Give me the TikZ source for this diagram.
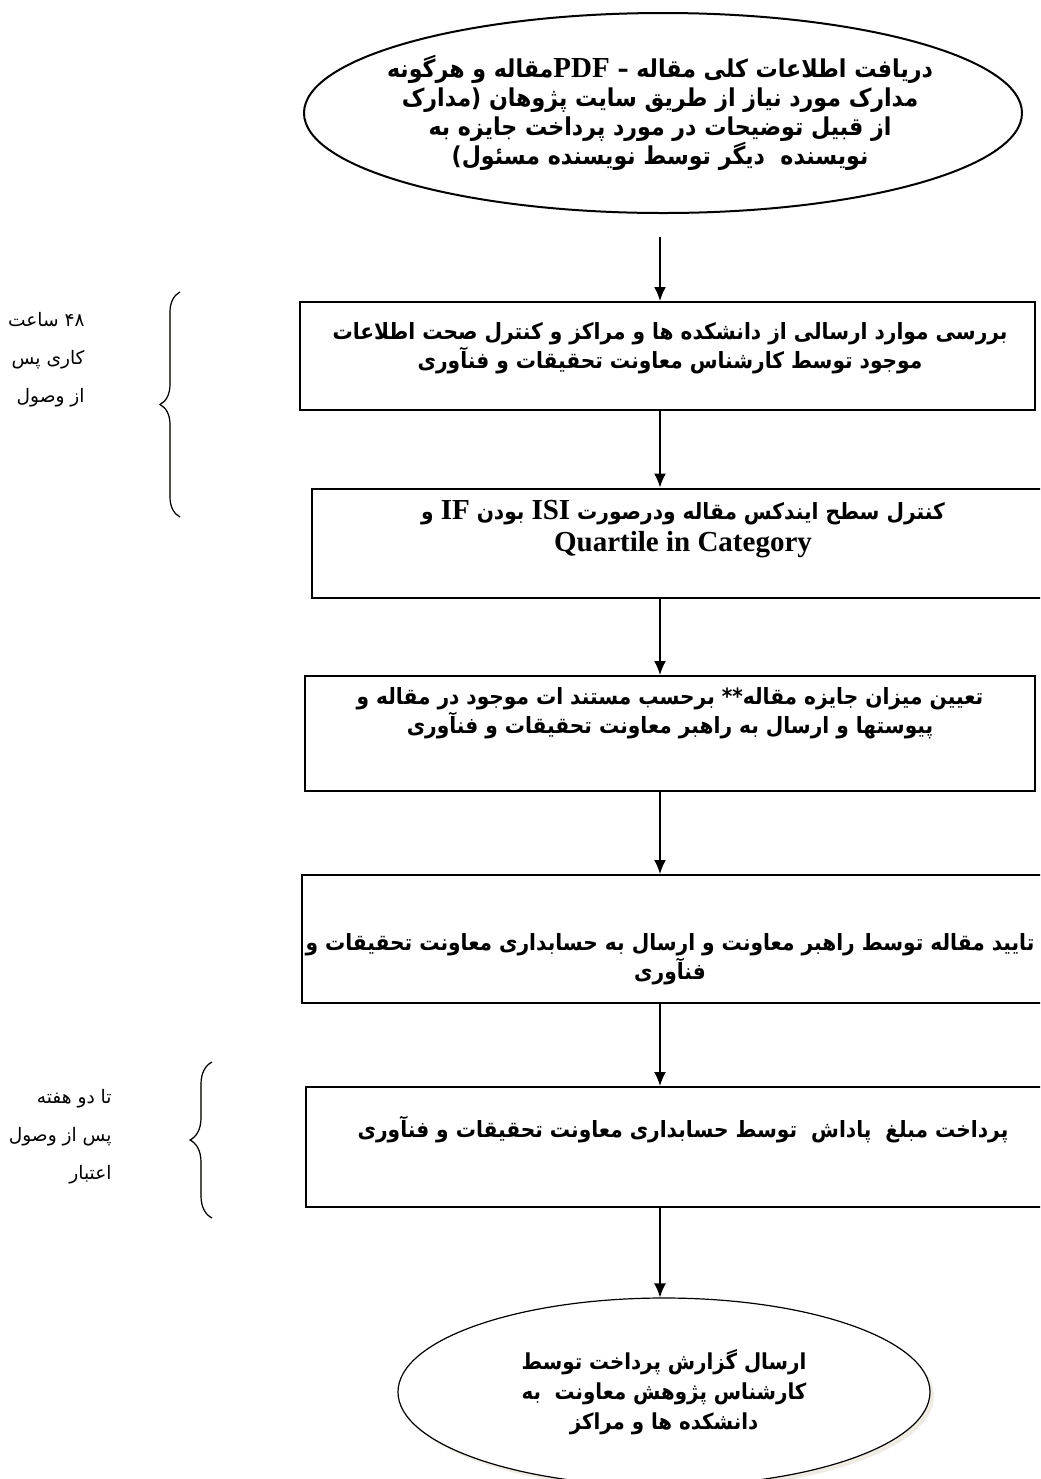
\documentclass[tikz,border=0pt]{standalone}
\usepackage{fontspec}
\usepackage{tikz}
\usetikzlibrary{arrows.meta, decorations.pathreplacing, shadows, shapes.geometric}
\TeXXeTstate=1
\newfontfamily\farsi[Script=Arabic]{DejaVu Sans Condensed}
\newfontfamily\farsinote[Script=Arabic]{DejaVu Sans}
\newfontfamily\latin{Liberation Serif}
\definecolor{shadowtan}{RGB}{222,218,200}
\newcommand\fa[1]{\beginR #1\endR}
\newcommand\en[1]{\beginL{\latin\bfseries\fontsize{14.5}{15}\selectfont #1}\endL}

\begin{document}
\begin{tikzpicture}[x=0.5pt,y=-0.5pt,>={Latex[length=7pt,width=6pt]},
  stepbox/.style={draw,line width=1pt,rectangle,inner sep=0pt},
  steptext/.style={inner sep=0pt,align=center,font=\farsi\bfseries\fontsize{11.2}{13.2}\selectfont},
  endball/.style={draw,ellipse,inner sep=0pt,align=center,
    font=\farsi\bfseries\fontsize{11}{15}\selectfont},
  note/.style={inner sep=0pt,align=right,anchor=east,font=\farsinote\fontsize{9.3}{19}\selectfont},
  timebrace/.style={decorate,decoration={brace,amplitude=#1},line width=.6pt},
  flow/.style={->,line width=.8pt}]
\useasboundingbox (0,0) rectangle (1040,1479);
\clip (0,0) rectangle (1040,1479);
\coordinate (axis) at (660,0);

\draw node [endball,line width=1pt,minimum width=359pt,minimum height=100pt] (E1) at (663,113) {};
\draw node [steptext,font=\farsi\bfseries\fontsize{12.3}{14.5}\selectfont] (T0) at (660,113)
  {\fa{دریافت اطلاعات کلی مقاله – \en{PDF}مقاله و هرگونه}\\
   \fa{مدارک مورد نیاز از طریق سایت پژوهان (مدارک}\\
   \fa{از قبیل توضیحات در مورد پرداخت جایزه به}\\
   \fa{نویسنده \ دیگر توسط نویسنده مسئول)}};

\draw node [stepbox,minimum width=367.5pt,minimum height=54pt] (B1) at (667.5,356) {};
\draw node [steptext] (T1) at (670,348)
  {\fa{بررسی موارد ارسالی از دانشکده ها و مراکز و کنترل صحت اطلاعات}\\
   \fa{موجود توسط کارشناس معاونت تحقیقات و فنآوری}};
\draw node [stepbox,minimum width=374pt,minimum height=54.5pt] (B2) at (686,543) {};
\draw node [steptext] (T2) at (683,529)
  {\fa{کنترل سطح ایندکس مقاله ودرصورت \en{ISI} بودن \en{IF} و}\\[3pt]
   \en{Quartile in Category}};
\draw node [stepbox,minimum width=365pt,minimum height=57.5pt] (B3) at (670,733.5) {};
\draw node [steptext] (T3) at (670,713)
  {\fa{تعیین میزان جایزه مقاله** برحسب مستند ات موجود در مقاله و}\\
   \fa{پیوستها و ارسال به راهبر معاونت تحقیقات و فنآوری}};
\draw node [stepbox,minimum width=379pt,minimum height=64pt] (B4) at (681,939) {};
\draw node [steptext] (T4) at (670,959)
  {\fa{تایید مقاله توسط راهبر معاونت و ارسال به حسابداری معاونت تحقیقات و}\\
   \fa{فنآوری}};
\draw node [stepbox,minimum width=377pt,minimum height=60pt] (B5) at (683,1147) {};
\draw node [steptext] (T5) at (683,1130)
  {\fa{پرداخت مبلغ \ پاداش \ توسط حسابداری معاونت تحقیقات و فنآوری}};
\draw node [endball,line width=.6pt,fill=white,minimum width=266pt,minimum height=94pt,
  drop shadow={shadow xshift=2pt,shadow yshift=-2pt,fill=shadowtan}] (E2) at (664,1392)
  {\fa{ارسال گزارش پرداخت توسط}\\
   \fa{کارشناس پژوهش معاونت \ به}\\
   \fa{دانشکده ها و مراکز}};

\coordinate (A0) at (660,237);
\draw [flow] (A0) -- (B1.north -| axis);
\draw [flow] (B1.south -| axis) -- (B2.north -| axis);
\draw [flow] (B2.south -| axis) -- (B3.north -| axis);
\draw [flow] (B3.south -| axis) -- (B4.north -| axis);
\draw [flow] (B4.south -| axis) -- (B5.north -| axis);
\draw [flow] (B5.south -| axis) -- (E2.north -| axis);

\coordinate (W1a) at (180,517);
\coordinate (W1b) at (180,292);
\draw [timebrace=10pt,shadowtan,xshift=1.2pt] (W1a) -- (W1b);
\draw [timebrace=10pt] (W1a) -- (W1b);
\draw node [note] (N1) at (85,360)
  {\fa{۴۸ ساعت}\\ \fa{کاری پس}\\ \fa{از وصول}};

\coordinate (W2a) at (212,1218);
\coordinate (W2b) at (212,1062);
\draw [timebrace=11pt,shadowtan,xshift=1.2pt] (W2a) -- (W2b);
\draw [timebrace=11pt] (W2a) -- (W2b);
\draw node [note] (N2) at (112,1137)
  {\fa{تا دو هفته}\\ \fa{پس از وصول}\\ \fa{اعتبار}};
\end{tikzpicture}
\end{document}
